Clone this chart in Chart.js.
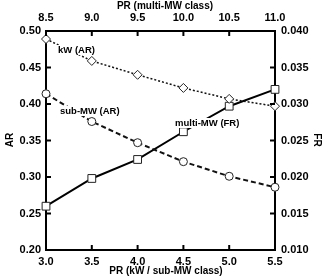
<!DOCTYPE html>
<html lang="en">
<head>
<meta charset="UTF-8">
<title>PR vs AR / FR</title>
<script src="https://cdn.jsdelivr.net/npm/chart.js"></script>
<style>
  html, body { margin: 0; padding: 0; background: #fff; }
  #wrap { width: 323px; height: 278px; }
</style>
</head>
<body>
<div id="wrap"><canvas id="prChart"></canvas></div>
<script>
// bottom axis: PR (kW / sub-MW class)
const prSmall = [3.0, 3.5, 4.0, 4.5, 5.0, 5.5];
// top axis: PR (multi-MW class)
const prLarge = [8.5, 9.0, 9.5, 10.0, 10.5, 11.0];

const kwAR = [0.489, 0.459, 0.440, 0.422, 0.407, 0.397];
const subMwAR = [0.414, 0.376, 0.347, 0.321, 0.301, 0.286];
const multiMwFR = [0.0160, 0.0198, 0.0224, 0.0262, 0.0297, 0.0320];

const seriesLabels = ['kW (AR)', 'sub-MW (AR)', 'multi-MW (FR)'];

const FONT = '"Liberation Sans", Arial, sans-serif';

function pts(xs, ys) {
    return xs.map(function (x, i) { return { x: x, y: ys[i] }; });
}

// ticks pointing into the plot, axis titles and in-plot labels
const extras = {
    id: 'extras',
    afterDraw(chart) {
        const ctx = chart.ctx;
        const a = chart.chartArea;
        const s = chart.scales;
        ctx.save();
        ctx.strokeStyle = '#000';
        ctx.lineWidth = 2;
        const len = 5;
        s.x.ticks.forEach(function (t) {
            const px = s.x.getPixelForValue(t.value);
            ctx.beginPath(); ctx.moveTo(px, a.bottom); ctx.lineTo(px, a.bottom - len); ctx.stroke();
        });
        s.x2.ticks.forEach(function (t) {
            const px = s.x2.getPixelForValue(t.value);
            ctx.beginPath(); ctx.moveTo(px, a.top); ctx.lineTo(px, a.top + len); ctx.stroke();
        });
        s.y.ticks.forEach(function (t) {
            const py = s.y.getPixelForValue(t.value);
            ctx.beginPath(); ctx.moveTo(a.left, py); ctx.lineTo(a.left + len, py); ctx.stroke();
        });
        s.y2.ticks.forEach(function (t) {
            const py = s.y2.getPixelForValue(t.value);
            ctx.beginPath(); ctx.moveTo(a.right, py); ctx.lineTo(a.right - len, py); ctx.stroke();
        });

        ctx.fillStyle = '#000';
        ctx.textAlign = 'center';
        ctx.textBaseline = 'middle';
        ctx.font = 'bold 10px ' + FONT;
        ctx.fillText('PR (multi-MW class)', 165, 6);
        ctx.fillText('PR (kW / sub-MW class)', 166, 271);
        ctx.save();
        ctx.translate(10, 140);
        ctx.rotate(-Math.PI / 2);
        ctx.fillText('AR', 0, 0);
        ctx.restore();
        ctx.save();
        ctx.translate(317, 140);
        ctx.rotate(Math.PI / 2);
        ctx.fillText('FR', 0, 0);
        ctx.restore();

        // series labels sit on a white patch that breaks the lines
        ctx.font = 'bold 9.5px ' + FONT;
        ctx.textAlign = 'left';
        [[58, 50], [60, 111], [175, 123]].forEach(function (p, i) {
            const w = ctx.measureText(seriesLabels[i]).width;
            ctx.fillStyle = '#fff';
            ctx.fillRect(p[0] - 2, p[1] - 5, w + 4, 10);
            ctx.fillStyle = '#000';
            ctx.fillText(seriesLabels[i], p[0], p[1]);
        });
        ctx.restore();
    }
};

function fixSize(prop, val) {
    return function (scale) { scale[prop] = val; };
}

const tickFont = { family: FONT, size: 11, weight: 'bold' };

new Chart(document.getElementById('prChart'), {
    type: 'line',
    data: {
        datasets: [
            {
                label: seriesLabels[0],
                data: pts(prSmall, kwAR),
                xAxisID: 'x', yAxisID: 'y',
                borderColor: '#111', borderWidth: 1.5, borderDash: [2, 2],
                pointStyle: 'rectRot', pointRadius: 4.5,
                pointBackgroundColor: '#fff', pointBorderColor: '#222', pointBorderWidth: 1,
                clip: false
            },
            {
                label: seriesLabels[1],
                data: pts(prSmall, subMwAR),
                xAxisID: 'x', yAxisID: 'y',
                borderColor: '#111', borderWidth: 2, borderDash: [5, 3],
                pointStyle: 'circle', pointRadius: 4,
                pointBackgroundColor: '#fff', pointBorderColor: '#222', pointBorderWidth: 1,
                clip: false
            },
            {
                label: seriesLabels[2],
                data: pts(prLarge, multiMwFR),
                xAxisID: 'x2', yAxisID: 'y2',
                borderColor: '#000', borderWidth: 2,
                pointStyle: 'rect', pointRadius: 5.5,
                pointBackgroundColor: '#fff', pointBorderColor: '#222', pointBorderWidth: 1,
                clip: false
            }
        ]
    },
    options: {
        responsive: true,
        maintainAspectRatio: false,
        animation: false,
        layout: { padding: 0 },
        plugins: { legend: { display: false }, tooltip: { enabled: false } },
        elements: { line: { tension: 0 } },
        scales: {
            x: {
                type: 'linear', position: 'bottom', min: 3.0, max: 5.5,
                afterFit: fixSize('height', 28),
                grid: { display: false, drawTicks: false },
                border: { display: true, color: '#000', width: 2 },
                ticks: { stepSize: 0.5, padding: 5, color: '#000', font: tickFont, maxRotation: 0,
                    callback: function (v) { return v.toFixed(1); } }
            },
            x2: {
                type: 'linear', position: 'top', min: 8.5, max: 11.0,
                afterFit: fixSize('height', 31),
                grid: { display: false, drawTicks: false },
                border: { display: true, color: '#000', width: 2 },
                ticks: { stepSize: 0.5, padding: 6, color: '#000', font: tickFont, maxRotation: 0,
                    callback: function (v) { return v.toFixed(1); } }
            },
            y: {
                type: 'linear', position: 'left', min: 0.20, max: 0.50,
                afterFit: fixSize('width', 46),
                grid: { display: false, drawTicks: false },
                border: { display: true, color: '#000', width: 2 },
                ticks: { stepSize: 0.05, padding: 5, color: '#000', font: tickFont,
                    callback: function (v) { return v.toFixed(2); } }
            },
            y2: {
                type: 'linear', position: 'right', min: 0.010, max: 0.040,
                afterFit: fixSize('width', 48),
                grid: { display: false, drawTicks: false },
                border: { display: true, color: '#000', width: 2 },
                ticks: { stepSize: 0.005, padding: 6, color: '#000', font: tickFont,
                    callback: function (v) { return v.toFixed(3); } }
            }
        }
    },
    plugins: [extras]
});
</script>
</body>
</html>
